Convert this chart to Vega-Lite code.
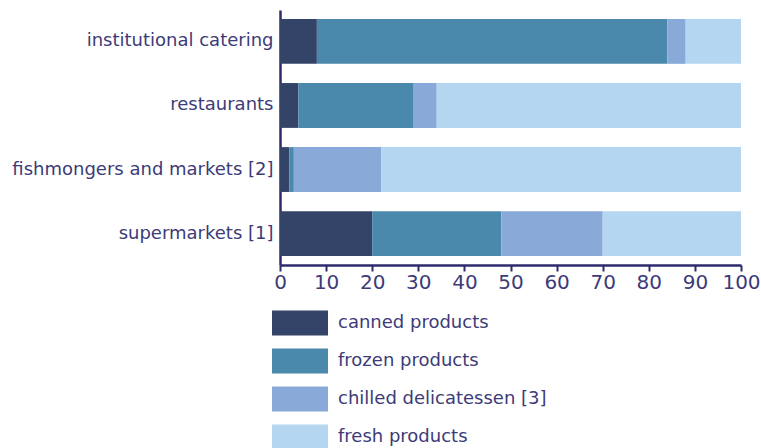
{
  "$schema": "https://vega.github.io/schema/vega-lite/v6.json",
  "width": 461,
  "height": 255,
  "autosize": "none",
  "padding": {"left": 280, "top": 10, "right": 20, "bottom": 183},
  "background": "white",
  "config": {
    "view": {"stroke": null},
    "font": "DejaVu Sans"
  },
  "data": {
    "values": [
      {"channel": "institutional catering", "product": "canned products", "k": 1, "share": 8},
      {"channel": "institutional catering", "product": "frozen products", "k": 2, "share": 76},
      {"channel": "institutional catering", "product": "chilled delicatessen [3]", "k": 3, "share": 4},
      {"channel": "institutional catering", "product": "fresh products", "k": 4, "share": 12},
      {"channel": "restaurants", "product": "canned products", "k": 1, "share": 4},
      {"channel": "restaurants", "product": "frozen products", "k": 2, "share": 25},
      {"channel": "restaurants", "product": "chilled delicatessen [3]", "k": 3, "share": 5},
      {"channel": "restaurants", "product": "fresh products", "k": 4, "share": 66},
      {"channel": "fishmongers and markets [2]", "product": "canned products", "k": 1, "share": 2},
      {"channel": "fishmongers and markets [2]", "product": "frozen products", "k": 2, "share": 1},
      {"channel": "fishmongers and markets [2]", "product": "chilled delicatessen [3]", "k": 3, "share": 19},
      {"channel": "fishmongers and markets [2]", "product": "fresh products", "k": 4, "share": 78},
      {"channel": "supermarkets [1]", "product": "canned products", "k": 1, "share": 20},
      {"channel": "supermarkets [1]", "product": "frozen products", "k": 2, "share": 28},
      {"channel": "supermarkets [1]", "product": "chilled delicatessen [3]", "k": 3, "share": 22},
      {"channel": "supermarkets [1]", "product": "fresh products", "k": 4, "share": 30}
    ]
  },
  "mark": {"type": "bar"},
  "encoding": {
    "y": {
      "field": "channel",
      "type": "nominal",
      "sort": ["institutional catering", "restaurants", "fishmongers and markets [2]", "supermarkets [1]"],
      "scale": {"paddingInner": 0.3, "paddingOuter": 0.14},
      "axis": {
        "title": null,
        "ticks": false,
        "domainColor": "#2e2a6e",
        "domainWidth": 2.5,
        "labelFontSize": 18,
        "labelColor": "#3d3b78",
        "labelPadding": 7,
        "labelLimit": 300
      }
    },
    "x": {
      "field": "share",
      "type": "quantitative",
      "stack": "zero",
      "scale": {"domain": [0, 100], "nice": false},
      "axis": {
        "title": null,
        "values": [0, 10, 20, 30, 40, 50, 60, 70, 80, 90, 100],
        "grid": false,
        "domainColor": "#2e2a6e",
        "domainWidth": 2.5,
        "tickColor": "#2e2a6e",
        "tickWidth": 2,
        "tickSize": 6,
        "labelFontSize": 20,
        "labelColor": "#3d3b78",
        "labelPadding": 1,
        "labelFlush": false
      }
    },
    "color": {
      "field": "product",
      "type": "nominal",
      "sort": ["canned products", "frozen products", "chilled delicatessen [3]", "fresh products"],
      "scale": {
        "domain": ["canned products", "frozen products", "chilled delicatessen [3]", "fresh products"],
        "range": ["#344468", "#4b89ac", "#89aad8", "#b4d6f0"]
      },
      "legend": {
        "title": null,
        "orient": "none",
        "legendX": 6,
        "legendY": 299,
        "direction": "vertical",
        "symbolType": "M-2,-0.9H2V0.9H-2Z",
        "symbolSize": 784,
        "symbolStrokeWidth": 0,
        "symbolOpacity": 1,
        "labelFontSize": 18,
        "labelColor": "#3d3b78",
        "labelOffset": 24,
        "rowPadding": 11,
        "labelLimit": 400
      }
    },
    "order": {"field": "k", "type": "quantitative"}
  }
}
